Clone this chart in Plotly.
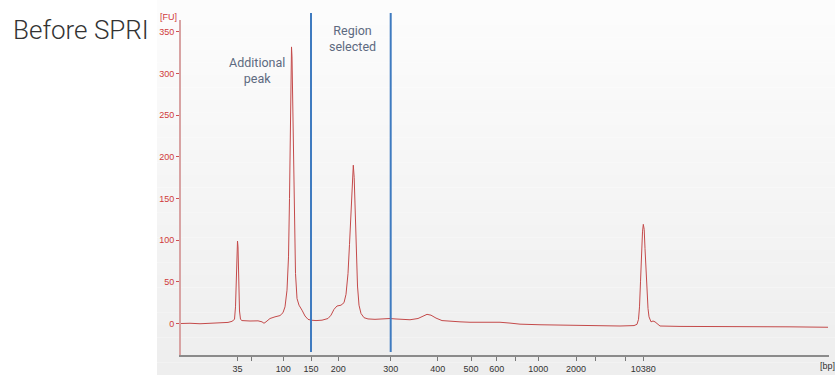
import plotly.graph_objects as go

# Migration position (arbitrary time units) and fluorescence [FU]
time_units = [0, 9, 19, 29, 39, 47, 51, 53.5, 54.5, 55.3, 56.0, 56.5, 57.0, 57.7, 58.5, 59.5,
              61, 69, 77, 81, 83, 85, 89, 94, 99, 102, 104, 106, 107.5, 108.5, 109.3, 110.0,
              110.5, 111.0, 111.7, 112.5, 113.5, 114.5, 116, 118, 121, 124, 127, 130, 135, 141,
              147, 150, 153, 156, 160, 163, 165, 167, 168.5, 170, 171.3, 172.3, 173.2, 174.2,
              175.3, 176.5, 178, 180, 183, 187, 194, 201, 209, 214, 219, 229, 237, 242, 246,
              250, 255, 261, 269, 279, 289, 304, 319, 329, 339, 359, 379, 399, 419, 439, 453,
              456, 457.5, 458.5, 459.5, 460.5, 461.5, 462.3, 463.2, 464, 465, 466, 467, 468,
              469, 470, 472, 474, 476, 479, 499, 519, 549, 579, 609, 647]
fu_values = [0.0, 0.3, -0.3, 0.2, 0.6, 1.3, 2.6, 5, 20, 60, 95, 99, 92, 55, 15, 5,
             3.5, 3.0, 3.2, 2.0, 0.3, 2.0, 6, 8, 9.5, 13, 20, 40, 80, 150, 240, 310,
             332, 320, 270, 180, 110, 60, 30, 22, 16, 9, 5, 4, 3.5, 4,
             6, 10, 17, 21, 22, 25, 35, 60, 95, 140, 178, 190, 175, 130,
             80, 45, 22, 12, 7, 5.5, 5, 5.5, 6, 5.5, 5, 4.5, 6, 9, 11,
             10, 6.5, 3.5, 2.5, 2, 1.5, 1.5, 1.5, 0.5, -0.8, -1.5, -2, -2.5, -3, -3, -2.5,
             -1, 5, 20, 50, 85, 110, 119, 113, 90, 60, 35, 18,
             8, 4, 2, 3, 2, 0, -3, -3.5, -3.5, -4, -4, -4, -4.5]

# Ladder tick positions and labels
tick_positions = [56.5, 70.7, 102.3, 130, 157.3, 209.7, 256.7, 290, 315.7, 334.7, 357.3, 395, 414, 444.7, 462.3]
tick_labels = ["35", "", "100", "150", "200", "300", "400", "500", "600", "", "1000", "2000", "", "", "10380"]
region_bounds = [130, 209.7]   # 150 bp and 300 bp
y_ticks = [0, 50, 100, 150, 200, 250, 300, 350]

fig = go.Figure()

# gradient-like background panel
n_bands = 30
y_top, y_bot = 1.0597, -0.0597
for i in range(n_bands):
    f = i / (n_bands - 1)
    g = int(round(252 - f * (252 - 238)))
    y1 = y_top - (y_top - y_bot) * i / n_bands
    y0 = y_top - (y_top - y_bot) * (i + 1) / n_bands
    fig.add_shape(type="rect", xref="paper", yref="paper", x0=-0.037, x1=1.01,
                  y0=y0, y1=y1, fillcolor=f"rgb({g},{g},{g})", line=dict(width=0), layer="below")

fig.add_trace(go.Scatter(x=time_units, y=fu_values, mode="lines",
                         line=dict(color="#c44a4a", width=1), hoverinfo="skip", showlegend=False))

for xb in region_bounds:
    fig.add_shape(type="line", xref="x", yref="paper", x0=xb, x1=xb, y0=0.009, y1=1.021,
                  line=dict(color="#3f7bc0", width=2))

fig.update_xaxes(range=[0, 648], tickmode="array", tickvals=tick_positions, ticktext=tick_labels,
                 showgrid=False, zeroline=False, showline=True, linecolor="#8a8a8a", linewidth=1.5,
                 ticks="outside", ticklen=4, tickcolor="#777", tickwidth=1, automargin=False,
                 tickfont=dict(family="Liberation Sans", size=9, color="#333"))
fig.update_yaxes(range=[-37.8, 364.3], tickmode="array", tickvals=y_ticks,
                 showgrid=False, zeroline=False, showline=True, linecolor="#d8a3a3", linewidth=2,
                 ticks="outside", ticklen=3, tickcolor="#d05050", tickwidth=1, automargin=False,
                 tickfont=dict(family="Liberation Sans", size=9, color="#d03a3a"))

ann_font = dict(family="Roboto", size=12.5, color="#5d6a80")
fig.add_annotation(xref="paper", yref="paper", x=(257 - 181) / 648, y=(355 - 70) / 335,
                   xanchor="center", yanchor="middle",
                   text="Additional<br>peak", showarrow=False, font=ann_font, align="center")
fig.add_annotation(xref="paper", yref="paper", x=(352 - 181) / 648, y=(355 - 38) / 335,
                   xanchor="center", yanchor="middle",
                   text="Region<br>selected", showarrow=False, font=ann_font, align="center")
fig.add_annotation(xref="paper", yref="paper", x=(168 - 181) / 648, y=(355 - 17) / 335,
                   xanchor="center", yanchor="middle",
                   text="[FU]", showarrow=False, font=dict(family="Liberation Sans", size=9, color="#d03a3a"))
fig.add_annotation(xref="paper", yref="paper", x=(827 - 181) / 648, y=(355 - 366) / 335,
                   xanchor="center", yanchor="middle",
                   text="[bp]", showarrow=False, font=dict(family="Liberation Sans", size=9, color="#333"))
fig.add_annotation(xref="paper", yref="paper", x=(11 - 181) / 648, y=(355 - 30) / 335,
                   xanchor="left", yanchor="middle", text="Before SPRI", showarrow=False,
                   font=dict(family="Roboto", size=26, color="#333", weight=300))

fig.update_layout(width=835, height=375, margin=dict(l=181, r=6, t=20, b=20),
                  paper_bgcolor="white", plot_bgcolor="rgba(0,0,0,0)")

fig.write_html("out.html")
